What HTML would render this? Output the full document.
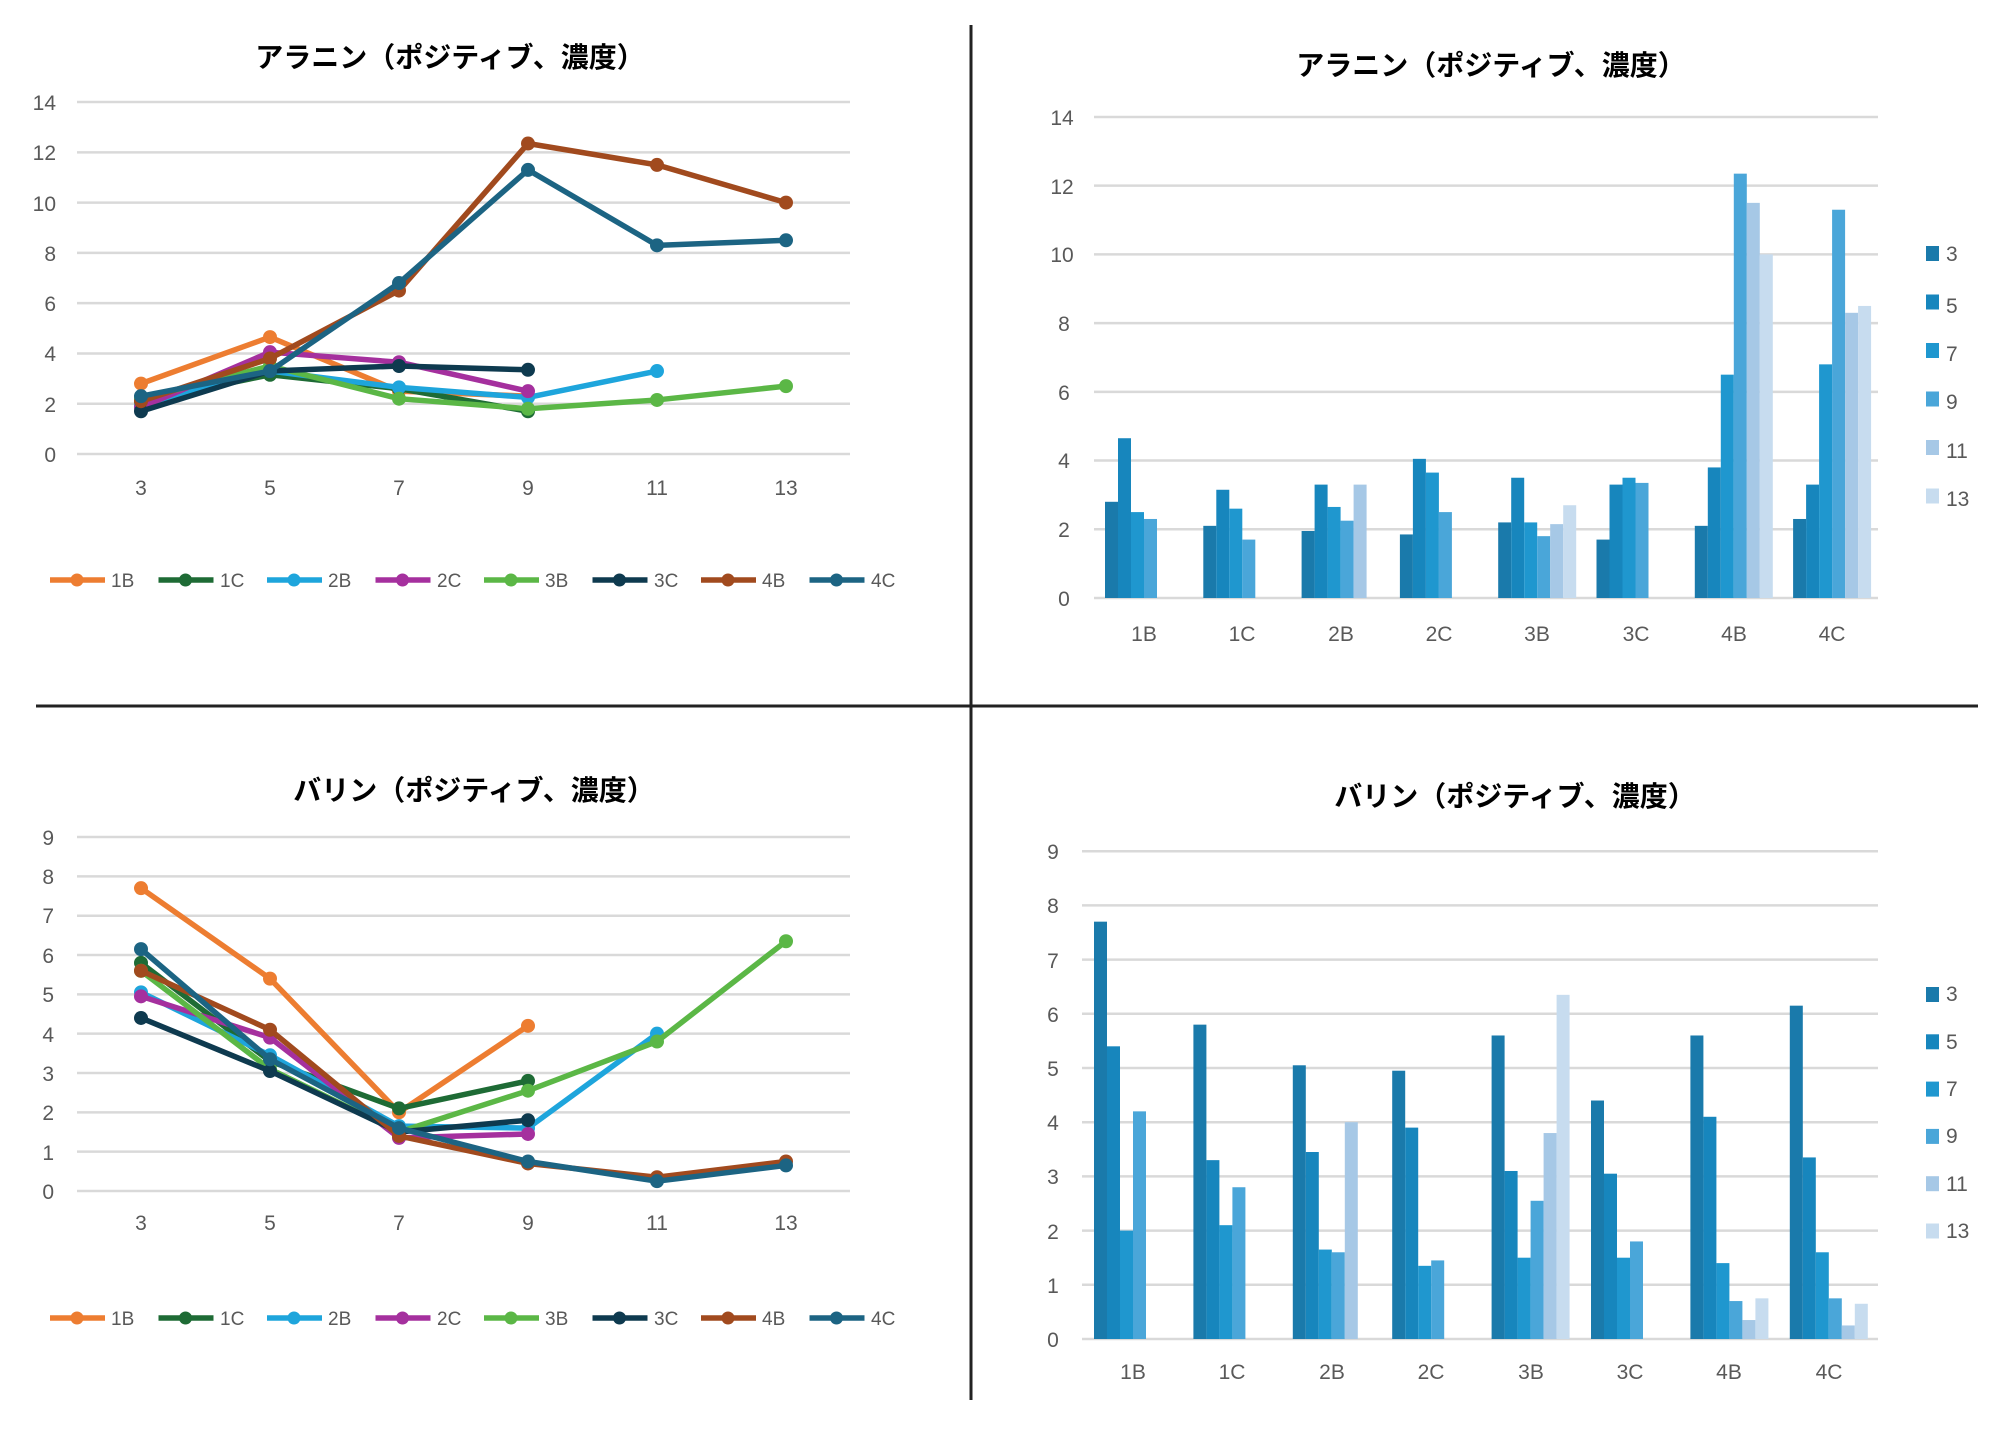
<!DOCTYPE html>
<html><head><meta charset="utf-8">
<style>
html,body{margin:0;padding:0;background:#fff;}
svg{display:block;}
text{font-family:"Liberation Sans","Noto Sans CJK JP",sans-serif;}
.t{font-size:28px;font-weight:bold;fill:#000;text-anchor:middle;}
.tk{font-size:21px;fill:#595959;}
.ya{text-anchor:end;}
.xa{text-anchor:middle;}
.lg{font-size:19px;fill:#595959;}
</style></head>
<body>
<svg id="s" width="2000" height="1432" viewBox="0 0 2000 1432" xmlns="http://www.w3.org/2000/svg">
<rect width="2000" height="1432" fill="#fff"/>
<line x1="971" y1="25" x2="971" y2="1400" stroke="#222" stroke-width="3"/>
<line x1="36" y1="706" x2="1978" y2="706" stroke="#222" stroke-width="3"/>
<g id="grid"></g>
<g id="data"></g>

<text class="t" x="450" y="67">アラニン（ポジティブ、濃度）</text>
<text class="t" x="1491" y="75">アラニン（ポジティブ、濃度）</text>
<text class="t" x="474" y="800">バリン（ポジティブ、濃度）</text>
<text class="t" x="1515" y="806">バリン（ポジティブ、濃度）</text>

<g class="tk ya">
<text x="56" y="462">0</text><text x="56" y="412">2</text><text x="56" y="361">4</text><text x="56" y="311">6</text><text x="56" y="261">8</text><text x="56" y="211">10</text><text x="56" y="160">12</text><text x="56" y="110">14</text>
</g>
<g class="tk xa">
<text x="141" y="495">3</text><text x="270" y="495">5</text><text x="399" y="495">7</text><text x="528" y="495">9</text><text x="657" y="495">11</text><text x="786" y="495">13</text>
</g>
<g class="tk ya">
<text x="54" y="1199">0</text><text x="54" y="1160">1</text><text x="54" y="1120">2</text><text x="54" y="1081">3</text><text x="54" y="1042">4</text><text x="54" y="1002">5</text><text x="54" y="963">6</text><text x="54" y="923">7</text><text x="54" y="884">8</text><text x="54" y="845">9</text>
</g>
<g class="tk xa">
<text x="141" y="1230">3</text><text x="270" y="1230">5</text><text x="399" y="1230">7</text><text x="528" y="1230">9</text><text x="657" y="1230">11</text><text x="786" y="1230">13</text>
</g>
<g class="tk xa">
<text x="1064" y="606">0</text><text x="1064" y="537">2</text><text x="1064" y="468">4</text><text x="1064" y="400">6</text><text x="1064" y="331">8</text><text x="1062" y="262">10</text><text x="1062" y="194">12</text><text x="1062" y="125">14</text>
</g>
<g class="tk xa">
<text x="1144" y="641">1B</text><text x="1242" y="641">1C</text><text x="1341" y="641">2B</text><text x="1439" y="641">2C</text><text x="1537" y="641">3B</text><text x="1636" y="641">3C</text><text x="1734" y="641">4B</text><text x="1832" y="641">4C</text>
</g>
<g class="tk xa">
<text x="1053" y="1347">0</text><text x="1053" y="1293">1</text><text x="1053" y="1239">2</text><text x="1053" y="1184">3</text><text x="1053" y="1130">4</text><text x="1053" y="1076">5</text><text x="1053" y="1022">6</text><text x="1053" y="968">7</text><text x="1053" y="913">8</text><text x="1053" y="859">9</text>
</g>
<g class="tk xa">
<text x="1133" y="1379">1B</text><text x="1232" y="1379">1C</text><text x="1332" y="1379">2B</text><text x="1431" y="1379">2C</text><text x="1531" y="1379">3B</text><text x="1630" y="1379">3C</text><text x="1729" y="1379">4B</text><text x="1829" y="1379">4C</text>
</g>

<g class="lg">
<text x="111" y="587">1B</text><text x="220" y="587">1C</text><text x="328" y="587">2B</text><text x="437" y="587">2C</text><text x="545" y="587">3B</text><text x="654" y="587">3C</text><text x="762" y="587">4B</text><text x="871" y="587">4C</text>
<text x="111" y="1325">1B</text><text x="220" y="1325">1C</text><text x="328" y="1325">2B</text><text x="437" y="1325">2C</text><text x="545" y="1325">3B</text><text x="654" y="1325">3C</text><text x="762" y="1325">4B</text><text x="871" y="1325">4C</text>
</g>
<g class="tk">
<text x="1946" y="261">3</text><text x="1946" y="313">5</text><text x="1946" y="361">7</text><text x="1946" y="409">9</text><text x="1946" y="458">11</text><text x="1946" y="506">13</text>
<text x="1946" y="1001">3</text><text x="1946" y="1049">5</text><text x="1946" y="1096">7</text><text x="1946" y="1143">9</text><text x="1946" y="1191">11</text><text x="1946" y="1238">13</text>
</g>
</svg>
<script>
var NS="http://www.w3.org/2000/svg";
var grid=document.getElementById("grid"),data=document.getElementById("data");
function el(p,n,a){var e=document.createElementNS(NS,n);for(var k in a)e.setAttribute(k,a[k]);p.appendChild(e);return e;}
function hl(x1,x2,y){el(grid,"line",{x1:x1,x2:x2,y1:y,y2:y,stroke:"#d9d9d9","stroke-width":2.5});}
var i;
for(i=0;i<=7;i++)hl(77,850,454-i*2*25.14);
for(i=0;i<=9;i++)hl(77,850,1191-i*39.33);
for(i=0;i<=7;i++)hl(1094,1878,598-i*2*34.36);
for(i=0;i<=9;i++)hl(1082,1878,1339-i*54.2);
var cols=["#ed7d31","#1e6b35","#1ea5dc","#a5309e","#5bb746","#0e3a4f","#a14a1e","#1c6483"];
var ala=[[2.8,4.65,2.5,2.3],[2.1,3.15,2.6,1.7],[1.95,3.3,2.65,2.25,3.3],[1.85,4.05,3.65,2.5],[2.2,3.5,2.2,1.8,2.15,2.7],[1.7,3.3,3.5,3.35],[2.1,3.8,6.5,12.35,11.5,10],[2.3,3.3,6.8,11.3,8.3,8.5]];
var val=[[7.7,5.4,2.0,4.2],[5.8,3.3,2.1,2.8],[5.05,3.45,1.65,1.6,4.0],[4.95,3.9,1.35,1.45],[5.6,3.1,1.5,2.55,3.8,6.35],[4.4,3.05,1.5,1.8],[5.6,4.1,1.4,0.7,0.35,0.75],[6.15,3.35,1.6,0.75,0.25,0.65]];
function lines(d,fy){
 d.forEach(function(s,k){
  var pts=s.map(function(v,j){return (141+129*j)+","+fy(v);}).join(" ");
  el(data,"polyline",{points:pts,fill:"none",stroke:cols[k],"stroke-width":5.5,"stroke-linejoin":"round"});
  s.forEach(function(v,j){el(data,"circle",{cx:141+129*j,cy:fy(v),r:7,fill:cols[k]});});
 });
}
lines(ala,function(v){return 454-25.14*v;});
lines(val,function(v){return 1191-39.33*v;});
function leg(y){for(var k=0;k<8;k++){var x=50+108.5*k;el(data,"line",{x1:x,x2:x+55,y1:y,y2:y,stroke:cols[k],"stroke-width":5.5});el(data,"circle",{cx:x+27,cy:y,r:6.5,fill:cols[k]});}}
leg(580);leg(1318);
var bc=["#1a7aab","#1786bd","#1f97cf","#4aa6d9","#a6c8e6","#c7dcef"];
function bars(d,c0,sp,y0,sc){
 d.forEach(function(s,k){var c=c0+sp*k;s.forEach(function(v,j){el(data,"rect",{x:c-39+13*j,y:y0-v*sc,width:13,height:v*sc,fill:bc[j]});});});
}
bars(ala,1144,98.3,598,34.36);
bars(val,1133,99.4,1339,54.2);
for(i=0;i<6;i++){el(data,"rect",{x:1926,y:246+48.5*i,width:13,height:15,fill:bc[i]});el(data,"rect",{x:1926,y:987+47.3*i,width:13,height:15,fill:bc[i]});}
</script>
</body></html>
